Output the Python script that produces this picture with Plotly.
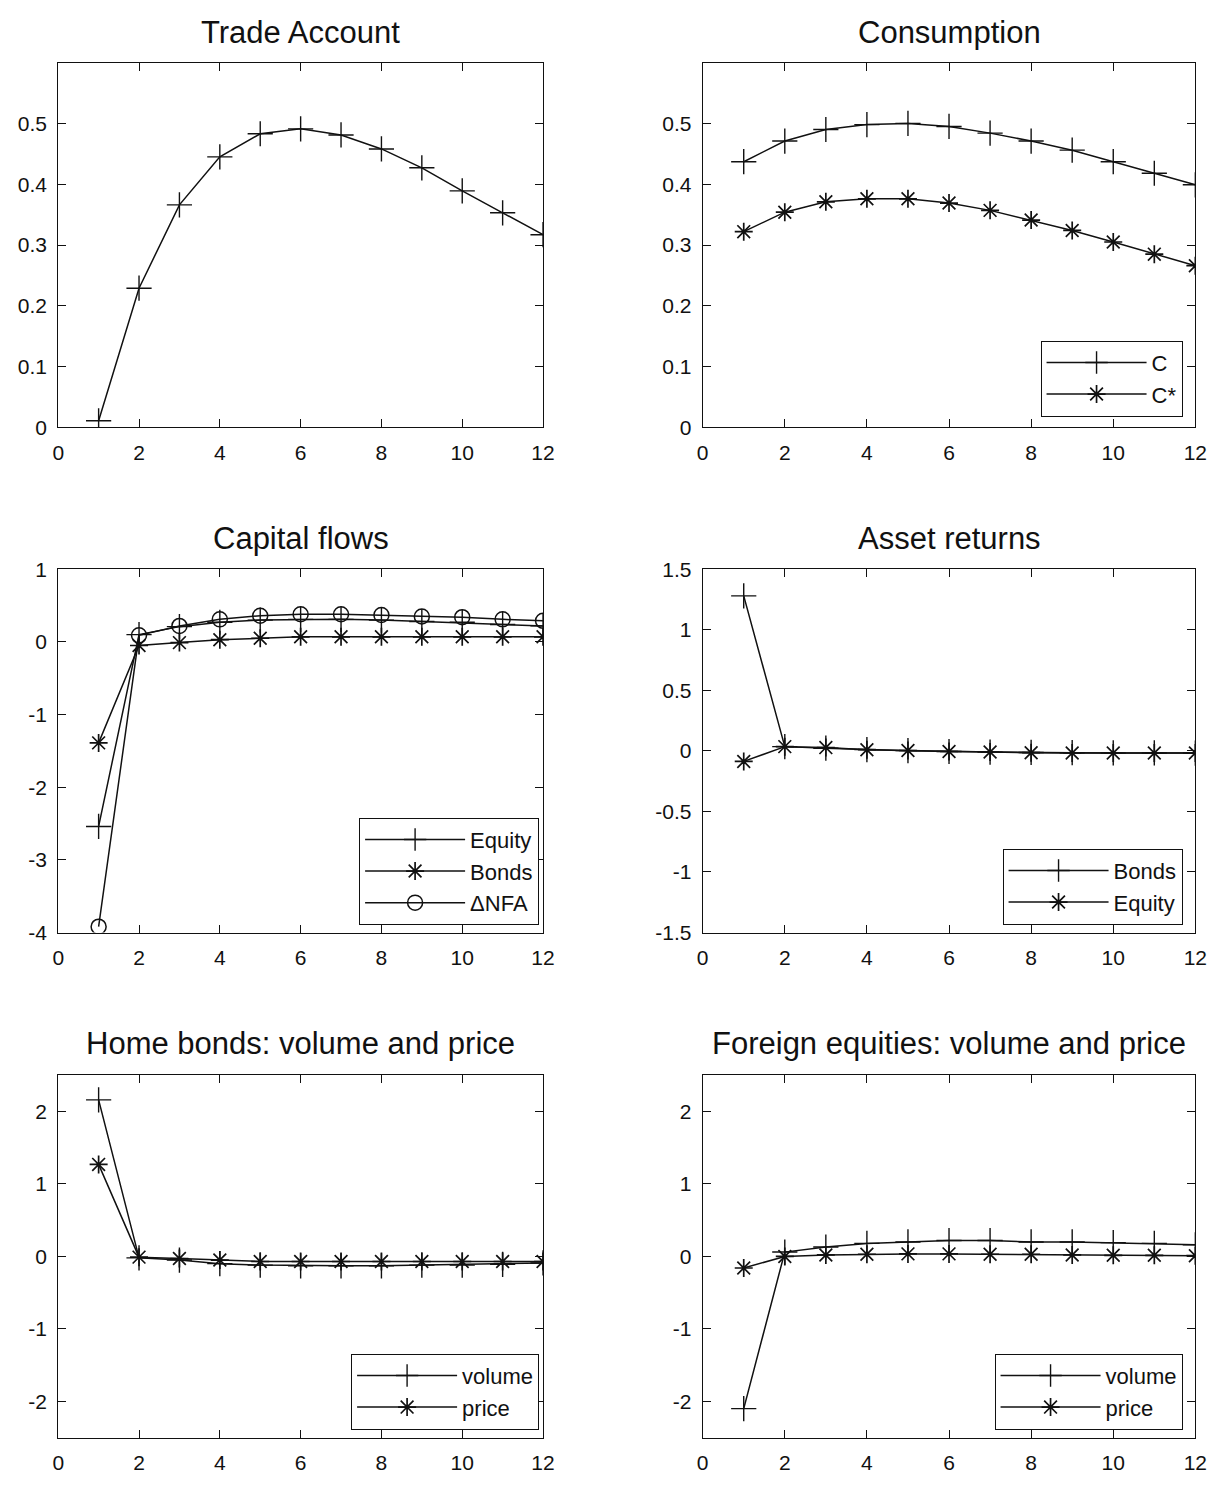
import plotly.graph_objects as go

# ---------------- data ----------------
periods = list(range(1, 13))

trade_account = [0.011, 0.229, 0.366, 0.445, 0.483, 0.491, 0.481, 0.458, 0.427, 0.389, 0.353, 0.317]

cons_C = [0.437, 0.471, 0.490, 0.498, 0.500, 0.495, 0.484, 0.471, 0.456, 0.437, 0.418, 0.399]
cons_Cstar = [0.322, 0.354, 0.371, 0.376, 0.376, 0.369, 0.357, 0.341, 0.324, 0.305, 0.285, 0.266]

cf_equity = [-2.54, 0.10, 0.21, 0.27, 0.30, 0.31, 0.31, 0.30, 0.28, 0.27, 0.24, 0.22]
cf_bonds = [-1.39, -0.05, -0.01, 0.03, 0.05, 0.07, 0.07, 0.07, 0.07, 0.07, 0.07, 0.07]
cf_dnfa = [-3.92, 0.09, 0.22, 0.31, 0.36, 0.38, 0.38, 0.37, 0.35, 0.34, 0.31, 0.29]

ar_bonds = [1.28, 0.035, 0.022, 0.010, 0.002, -0.005, -0.010, -0.013, -0.015, -0.017, -0.017, -0.018]
ar_equity = [-0.087, 0.035, 0.027, 0.010, 0.003, -0.005, -0.010, -0.015, -0.017, -0.017, -0.017, -0.017]

hb_volume = [2.16, -0.02, -0.05, -0.10, -0.12, -0.13, -0.13, -0.13, -0.12, -0.12, -0.11, -0.09]
hb_price = [1.27, -0.01, -0.03, -0.05, -0.07, -0.07, -0.07, -0.07, -0.07, -0.07, -0.07, -0.07]

fe_volume = [-2.10, 0.06, 0.13, 0.18, 0.20, 0.22, 0.22, 0.20, 0.20, 0.19, 0.18, 0.16]
fe_price = [-0.16, 0.00, 0.02, 0.03, 0.035, 0.035, 0.03, 0.03, 0.02, 0.015, 0.015, 0.01]

titles = ["Trade Account", "Consumption", "Capital flows", "Asset returns",
          "Home bonds: volume and price", "Foreign equities: volume and price"]

x_ticks = [0, 2, 4, 6, 8, 10, 12]
y_ticks = [
    [0, 0.1, 0.2, 0.3, 0.4, 0.5],
    [0, 0.1, 0.2, 0.3, 0.4, 0.5],
    [-4, -3, -2, -1, 0, 1],
    [-1.5, -1, -0.5, 0, 0.5, 1, 1.5],
    [-2, -1, 0, 1, 2],
    [-2, -1, 0, 1, 2],
]
y_ticktext = [
    ["0", "0.1", "0.2", "0.3", "0.4", "0.5"],
    ["0", "0.1", "0.2", "0.3", "0.4", "0.5"],
    ["-4", "-3", "-2", "-1", "0", "1"],
    ["-1.5", "-1", "-0.5", "0", "0.5", "1", "1.5"],
    ["-2", "-1", "0", "1", "2"],
    ["-2", "-1", "0", "1", "2"],
]
y_ranges = [[0, 0.599], [0, 0.599], [-4, 1], [-1.5, 1.5], [-2.5, 2.5], [-2.5, 2.5]]

# ---------------- styling ----------------
W, H = 1232, 1485
FONT = "Liberation Sans, Arial, sans-serif"
INK = "#111111"

col_px = [(53, 545), (707, 1207)]
row_px = [(52, 422), (566, 935), (1080, 1448)]
title_y_px = [21, 535, 1048]


def px_x(p):
    return p / W


def px_y(p):
    return 1 - p / H


PLUS = dict(symbol="cross-thin", size=18, line=dict(width=1.4, color=INK), color=INK)
STAR = dict(symbol="asterisk", size=15, line=dict(width=1.7, color=INK), color=INK)
CIRC = dict(symbol="circle-open", size=15, line=dict(width=1.5, color=INK), color=INK)
LINE = dict(color=INK, width=1.5)

fig = go.Figure()


def add(idx, y, name, marker, legend="legend", show=True):
    fig.add_trace(go.Scatter(
        x=periods, y=y, name=name, mode="lines+markers",
        line=LINE, marker=marker,
        xaxis="x" if idx == 1 else f"x{idx}",
        yaxis="y" if idx == 1 else f"y{idx}",
        legend=legend, showlegend=show, hoverinfo="skip",
    ))


add(1, trade_account, "Trade Account", PLUS, show=False)
add(2, cons_C, "C", PLUS, legend="legend")
add(2, cons_Cstar, "C*", STAR, legend="legend")
add(3, cf_equity, "Equity", PLUS, legend="legend2")
add(3, cf_bonds, "Bonds", STAR, legend="legend2")
add(3, cf_dnfa, "ΔNFA", CIRC, legend="legend2")
add(4, ar_bonds, "Bonds", PLUS, legend="legend3")
add(4, ar_equity, "Equity", STAR, legend="legend3")
add(5, hb_volume, "volume", PLUS, legend="legend4")
add(5, hb_price, "price", STAR, legend="legend4")
add(6, fe_volume, "volume", PLUS, legend="legend5")
add(6, fe_price, "price", STAR, legend="legend5")

layout = dict(
    width=W, height=H,
    margin=dict(l=0, r=0, t=0, b=0),
    paper_bgcolor="white", plot_bgcolor="white",
    font=dict(family=FONT, size=21, color=INK),
    annotations=[],
)

for i in range(6):
    r, c = divmod(i, 2)
    x0, x1 = col_px[c]
    y0, y1 = row_px[r]
    xn = "xaxis" if i == 0 else f"xaxis{i+1}"
    yn = "yaxis" if i == 0 else f"yaxis{i+1}"
    common = dict(
        ticks="inside", ticklen=8, tickwidth=1, tickcolor=INK,
        showline=True, linecolor=INK, linewidth=1, mirror="ticks",
        showgrid=False, zeroline=False, ticklabelstandoff=6,
        tickfont=dict(size=21, family=FONT, color=INK),
    )
    layout[xn] = dict(
        domain=[px_x(x0), px_x(x1)], anchor="y" if i == 0 else f"y{i+1}", range=[0, 12],
        tickmode="array", tickvals=x_ticks, ticktext=[str(v) for v in x_ticks],
        **common,
    )
    layout[yn] = dict(
        domain=[px_y(y1), px_y(y0)], anchor="x" if i == 0 else f"x{i+1}", range=y_ranges[i],
        tickmode="array", tickvals=y_ticks[i], ticktext=y_ticktext[i],
        **common,
    )
    layout["annotations"].append(dict(
        text=titles[i], xref="paper", yref="paper",
        x=px_x((x0 + x1) / 2), y=px_y(title_y_px[r]),
        xanchor="center", yanchor="middle", showarrow=False,
        font=dict(size=31, family=FONT, color=INK),
    ))

legend_style = dict(
    bgcolor="white", bordercolor=INK, borderwidth=1,
    font=dict(size=22, family=FONT, color=INK),
    xanchor="right", yanchor="bottom", itemwidth=100,
    tracegroupgap=0,
)
legend_pos = {
    "legend": (1194, 411),
    "legend2": (541, 927),
    "legend3": (1194, 927),
    "legend4": (541, 1440),
    "legend5": (1194, 1440),
}
for k, (px, py) in legend_pos.items():
    layout[k] = dict(legend_style, x=px_x(px), y=px_y(py))

fig.update_layout(**layout)
fig.write_html(
    "out.html",
    config={"displayModeBar": False},
    post_script="document.documentElement.style.margin='0';"
                "document.body.style.margin='0';"
                "document.body.style.overflow='hidden';",
)
